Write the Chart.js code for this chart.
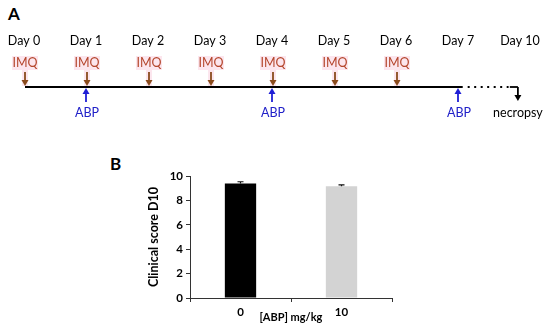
<!DOCTYPE html>
<html>
<head>
<meta charset="utf-8">
<script src="https://cdn.jsdelivr.net/npm/chart.js"></script>
<style>
  body { margin: 0; background: #fff; }
  #wrap { position: relative; width: 550px; height: 329px; overflow: hidden; }
  canvas { position: absolute; }
  .panel { position: absolute; font: bold 17px Lato, sans-serif; color: #000; }
</style>
</head>
<body>
<div id="wrap">
  <div class="panel" style="left:8px; top:3px;">A</div>
  <div class="panel" style="left:110px; top:153px;">B</div>
  <canvas id="timeline" width="550" height="130" style="left:0; top:0;"></canvas>
  <canvas id="scoreChart" width="270" height="169" style="left:140px; top:160px;"></canvas>
</div>

<script>
// Timeline (panel A)
const days = ['Day 0', 'Day 1', 'Day 2', 'Day 3', 'Day 4', 'Day 5', 'Day 6', 'Day 7', 'Day 10'];
const imqDays = [0, 1, 2, 3, 4, 5, 6];
const abpDays = [1, 4, 7];

// Clinical score (panel B)
const doses = ['0', '10'];
const scores = [9.38, 9.17];
const scoreErrors = [0.15, 0.1];
const yTicks = [0, 2, 4, 6, 8, 10];

// Draw an arrow from y1 to y2 (head at y2)
function arrow(ctx, x, y1, y2, color) {
    const dir = y2 > y1 ? 1 : -1;
    ctx.strokeStyle = color;
    ctx.fillStyle = color;
    ctx.lineWidth = 1.8;
    ctx.beginPath();
    ctx.moveTo(x, y1);
    ctx.lineTo(x, y2 - dir * 5);
    ctx.stroke();
    ctx.beginPath();
    ctx.moveTo(x, y2);
    ctx.lineTo(x - 3.5, y2 - dir * 6);
    ctx.lineTo(x + 3.5, y2 - dir * 6);
    ctx.closePath();
    ctx.fill();
}

const timelinePlugin = {
    id: 'timeline',
    afterDraw(chart) {
        const ctx = chart.ctx;
        const px = v => chart.scales.x.getPixelForValue(v);
        const lineY = 87;
        ctx.save();
        ctx.textAlign = 'center';
        ctx.textBaseline = 'middle';

        // day labels
        ctx.font = '12.5px Lato, sans-serif';
        ctx.fillStyle = '#000';
        days.forEach((d, i) => ctx.fillText(d, px(i) - 1, 41));

        // IMQ applications
        imqDays.forEach(i => {
            ctx.fillStyle = '#fce6ee';
            ctx.fillRect(px(i) - 13, 56, 26, 14);
            ctx.fillRect(px(i) - 3, 70, 6, 16);
            ctx.fillStyle = '#b4462c';
            ctx.fillText('IMQ', px(i), 63);
            arrow(ctx, px(i), 72, lineY - 1, '#8a4b1c');
        });

        // main timeline
        ctx.strokeStyle = '#000';
        ctx.lineWidth = 2;
        ctx.beginPath();
        ctx.moveTo(px(0), lineY);
        ctx.lineTo(px(7.06), lineY);
        ctx.stroke();

        // dotted continuation
        ctx.setLineDash([2, 4.5]);
        ctx.beginPath();
        ctx.moveTo(px(7.14), lineY);
        ctx.lineTo(px(7.8), lineY);
        ctx.stroke();
        ctx.setLineDash([]);

        // hook to necropsy
        ctx.lineWidth = 1.8;
        ctx.beginPath();
        ctx.moveTo(px(7.82), lineY);
        ctx.lineTo(px(7.95), lineY);
        ctx.stroke();
        arrow(ctx, px(7.95), lineY, 101, '#000');

        // ABP treatments
        abpDays.forEach(i => {
            arrow(ctx, px(i) - 1, 102, lineY + 1, '#1f1fd6');
            ctx.fillStyle = '#2020c8';
            ctx.fillText('ABP', px(i), 113);
        });

        ctx.fillStyle = '#000';
        ctx.fillText('necropsy', px(7.95), 113);
        ctx.restore();
    }
};

new Chart(document.getElementById('timeline'), {
    type: 'scatter',
    data: { datasets: [] },
    options: {
        responsive: false,
        animation: false,
        layout: { padding: 0 },
        plugins: { legend: { display: false }, tooltip: { enabled: false } },
        scales: {
            x: { type: 'linear', display: false, min: -25 / 62, max: 525 / 62 },
            y: { display: false, min: 0, max: 1 }
        }
    },
    plugins: [timelinePlugin]
});

// Error bars (upper half only) and x axis title
const errorBarPlugin = {
    id: 'errorBars',
    afterDatasetsDraw(chart) {
        const ctx = chart.ctx;
        const yScale = chart.scales.y;
        const xScale = chart.scales.x;
        const meta = chart.getDatasetMeta(0);
        ctx.save();
        ctx.strokeStyle = '#111';
        ctx.lineWidth = 1.2;
        meta.data.forEach((bar, i) => {
            const top = yScale.getPixelForValue(scores[i] + scoreErrors[i]);
            ctx.beginPath();
            ctx.moveTo(bar.x, bar.y);
            ctx.lineTo(bar.x, top);
            ctx.moveTo(bar.x - 3, top);
            ctx.lineTo(bar.x + 3, top);
            ctx.stroke();
        });
        ctx.font = 'bold 11px Lato, sans-serif';
        ctx.fillStyle = '#000';
        ctx.textAlign = 'center';
        ctx.textBaseline = 'middle';
        ctx.fillText('[ABP] mg/kg', (xScale.left + xScale.right) / 2, xScale.top + 19);
        ctx.restore();
    }
};

new Chart(document.getElementById('scoreChart'), {
    type: 'bar',
    data: {
        labels: doses,
        datasets: [{
            data: scores,
            backgroundColor: ['#000000', '#d3d3d3'],
            barPercentage: 0.31,
            categoryPercentage: 1
        }]
    },
    options: {
        responsive: false,
        animation: false,
        layout: { padding: { top: 16, right: 18, left: 0, bottom: 0 } },
        plugins: { legend: { display: false }, tooltip: { enabled: false } },
        scales: {
            x: {
                grid: { drawOnChartArea: false, tickLength: 4, color: '#333', offset: true },
                border: { color: '#333' },
                ticks: { color: '#000', padding: 3, font: { family: 'Lato', weight: 'bold', size: 11.5 } },
                afterFit: s => { s.height = 31; }
            },
            y: {
                min: 0,
                max: 10,
                afterBuildTicks: s => { s.ticks = yTicks.map(v => ({ value: v })); },
                grid: { drawOnChartArea: false, tickLength: 4, color: '#333' },
                border: { color: '#333' },
                ticks: { color: '#000', padding: 3, font: { family: 'Lato', weight: 'bold', size: 11.5 } },
                title: {
                    display: true,
                    text: 'Clinical score D10',
                    color: '#000',
                    padding: { top: 6, bottom: 0 },
                    font: { family: 'Lato', weight: 'bold', size: 12.5 }
                },
                afterFit: s => { s.width = 50; }
            }
        }
    },
    plugins: [errorBarPlugin]
});
</script>
</body>
</html>
